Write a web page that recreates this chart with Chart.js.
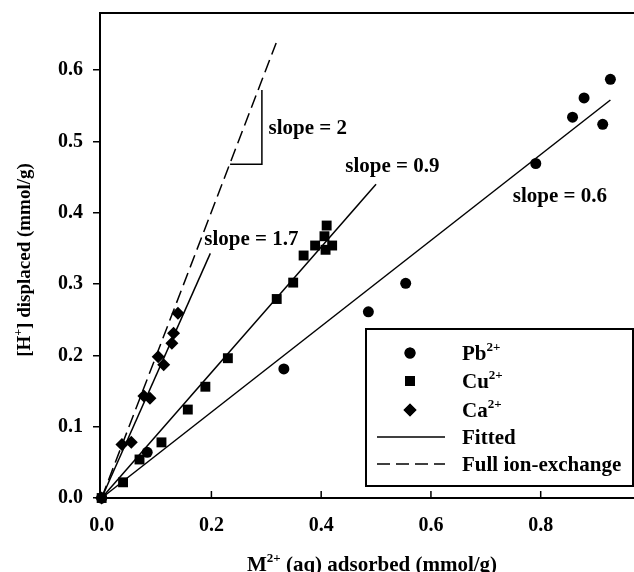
<!DOCTYPE html>
<html>
<head>
<meta charset="utf-8">
<script src="https://cdn.jsdelivr.net/npm/chart.js@4/dist/chart.umd.min.js"></script>
<style>
  html, body { margin: 0; padding: 0; background: #fff; }
  canvas { display: block; }
</style>
</head>
<body>
<canvas id="ionChart" width="634" height="572"></canvas>
<script>
// M2+ adsorbed vs H+ displaced, both in mmol/g
var pbX = [0, 0.083, 0.332, 0.486, 0.554, 0.791, 0.858, 0.879, 0.913, 0.927];
var pbY = [0, 0.064, 0.181, 0.261, 0.301, 0.469, 0.534, 0.561, 0.524, 0.587];

var cuX = [0, 0.039, 0.069, 0.109, 0.157, 0.189, 0.230, 0.319, 0.349, 0.368, 0.389, 0.406, 0.410, 0.408, 0.420];
var cuY = [0, 0.022, 0.054, 0.078, 0.124, 0.156, 0.196, 0.279, 0.302, 0.340, 0.354, 0.367, 0.382, 0.348, 0.354];

var caX = [0, 0.037, 0.054, 0.077, 0.088, 0.103, 0.113, 0.128, 0.131, 0.139];
var caY = [0, 0.075, 0.078, 0.143, 0.140, 0.198, 0.187, 0.217, 0.231, 0.259];

// fitted lines and the full ion-exchange line (slope 2)
var pbFitX = [0, 0.927], pbFitY = [0, 0.558];
var cuFitX = [0, 0.500], cuFitY = [0, 0.440];
var caFitX = [0, 0.198], caFitY = [0, 0.343];
var fullX = [0, 0.318], fullY = [0, 0.638];
// slope triangle next to the dashed line
var triX = [0.234, 0.292, 0.292], triY = [0.468, 0.468, 0.572];

var xTicks = [0, 0.2, 0.4, 0.6, 0.8];
var yTicks = [0, 0.1, 0.2, 0.3, 0.4, 0.5, 0.6];

var FONT = '"Liberation Serif", "Times New Roman", serif';

function pts(xs, ys) {
    return xs.map(function (x, i) { return { x: x, y: ys[i] }; });
}

function markers(label, xs, ys, style, r) {
    return {
        label: label, data: pts(xs, ys), pointStyle: style, pointRadius: r,
        backgroundColor: '#000', borderColor: '#000', borderWidth: 0, showLine: false, clip: false
    };
}

function line(xs, ys, dash) {
    return {
        data: pts(xs, ys), showLine: true, pointRadius: 0, borderColor: '#000',
        borderWidth: 1.5, borderDash: dash || [], fill: false, clip: false
    };
}

// text with superscript pieces, e.g. [['Pb'], ['2+', true]]
function richWidth(ctx, parts, size) {
    var w = 0;
    parts.forEach(function (p) {
        ctx.font = 'bold ' + (p[1] ? Math.round(size * 0.62) : size) + 'px ' + FONT;
        w += ctx.measureText(p[0]).width;
    });
    return w;
}

function richText(ctx, parts, x, y, size) {
    ctx.textBaseline = 'alphabetic';
    ctx.textAlign = 'left';
    parts.forEach(function (p) {
        var s = p[1] ? Math.round(size * 0.62) : size;
        ctx.font = 'bold ' + s + 'px ' + FONT;
        ctx.fillText(p[0], x, p[1] ? y - size * 0.42 : y);
        x += ctx.measureText(p[0]).width;
    });
}

var notes = [
    { text: 'slope = 2', x: 0.304, y: 0.518 },
    { text: 'slope = 1.7', x: 0.187, y: 0.363 },
    { text: 'slope = 0.9', x: 0.444, y: 0.464 },
    { text: 'slope = 0.6', x: 0.749, y: 0.422 }
];

var extras = {
    id: 'extras',
    afterDraw: function (chart) {
        var ctx = chart.ctx, a = chart.chartArea;
        var sx = chart.scales.x, sy = chart.scales.y;
        ctx.save();
        ctx.fillStyle = '#000';
        ctx.strokeStyle = '#000';

        // top frame line
        ctx.lineWidth = 2;
        ctx.beginPath();
        ctx.moveTo(a.left, a.top);
        ctx.lineTo(634, a.top);
        ctx.stroke();

        // x ticks point inward
        ctx.lineWidth = 1.5;
        xTicks.forEach(function (v) {
            var px = sx.getPixelForValue(v);
            if (px <= a.left + 2) return;
            ctx.beginPath();
            ctx.moveTo(px, a.bottom);
            ctx.lineTo(px, a.bottom - 7);
            ctx.stroke();
        });

        // slope labels
        ctx.font = 'bold 21px ' + FONT;
        ctx.textBaseline = 'middle';
        ctx.textAlign = 'left';
        notes.forEach(function (n) {
            ctx.fillText(n.text, sx.getPixelForValue(n.x), sy.getPixelForValue(n.y));
        });

        // axis titles
        var xt = [['M'], ['2+', true], [' (aq) adsorbed (mmol/g)']];
        var w = richWidth(ctx, xt, 21);
        richText(ctx, xt, 372 - w / 2, 571, 21);

        var yt = [['[H'], ['+', true], ['] displaced (mmol/g)']];
        w = richWidth(ctx, yt, 19);
        ctx.save();
        ctx.translate(30, 260);
        ctx.rotate(-Math.PI / 2);
        richText(ctx, yt, -w / 2, 0, 19);
        ctx.restore();

        // legend box
        ctx.lineWidth = 2;
        ctx.fillStyle = '#fff';
        ctx.fillRect(366, 329, 267, 157);
        ctx.strokeRect(366, 329, 267, 157);
        ctx.fillStyle = '#000';

        var ds = chart.data.datasets;
        var rows = [
            { set: ds[0], label: [['Pb'], ['2+', true]], y: 353 },
            { set: ds[1], label: [['Cu'], ['2+', true]], y: 381 },
            { set: ds[2], label: [['Ca'], ['2+', true]], y: 410 },
            { set: ds[3], label: [['Fitted']], y: 437, line: true },
            { set: ds[6], label: [['Full ion-exchange']], y: 464, line: true }
        ];
        rows.forEach(function (r) {
            if (r.line) {
                ctx.lineWidth = 1.5;
                ctx.setLineDash(r.set.borderDash);
                ctx.beginPath();
                ctx.moveTo(377, r.y);
                ctx.lineTo(445, r.y);
                ctx.stroke();
                ctx.setLineDash([]);
            } else {
                Chart.helpers.drawPoint(ctx, {
                    pointStyle: r.set.pointStyle, radius: r.set.pointRadius, borderWidth: 0
                }, 410, r.y);
                ctx.fill();
            }
            richText(ctx, r.label, 462, r.y + 7, 21);
        });

        ctx.restore();
    }
};

var ctx1 = document.getElementById('ionChart').getContext('2d');
var ionChart = new Chart(ctx1, {
    type: 'scatter',
    data: {
        datasets: [
            markers('Pb2+', pbX, pbY, 'circle', 5.5),
            markers('Cu2+', cuX, cuY, 'rect', 7),
            markers('Ca2+', caX, caY, 'rectRot', 6.5),
            line(pbFitX, pbFitY),
            line(cuFitX, cuFitY),
            line(caFitX, caFitY),
            line(fullX, fullY, [13, 6]),
            line(triX, triY)
        ]
    },
    options: {
        responsive: false,
        animation: false,
        layout: { autoPadding: false, padding: { top: 13, left: 0, right: 0, bottom: 0 } },
        plugins: { legend: { display: false }, tooltip: { enabled: false } },
        scales: {
            x: {
                type: 'linear', min: -0.003, max: 0.97,
                afterBuildTicks: function (s) { s.ticks = xTicks.map(function (v) { return { value: v }; }); },
                afterFit: function (s) { s.height = 74; s.paddingLeft = 0; s.paddingRight = 0; },
                ticks: {
                    color: '#000', padding: 8, maxRotation: 0,
                    font: { family: FONT, size: 20, weight: 'bold' },
                    callback: function (v) { return v.toFixed(1); }
                },
                grid: { display: false },
                border: { display: true, color: '#000', width: 2 }
            },
            y: {
                type: 'linear', min: 0, max: 0.68,
                afterBuildTicks: function (s) { s.ticks = yTicks.map(function (v) { return { value: v }; }); },
                afterFit: function (s) { s.width = 100; s.paddingTop = 0; s.paddingBottom = 0; },
                ticks: {
                    color: '#000', padding: 10,
                    font: { family: FONT, size: 20, weight: 'bold' },
                    callback: function (v) { return v.toFixed(1); }
                },
                grid: { drawOnChartArea: false, drawTicks: true, tickLength: 7, color: '#000', lineWidth: 1.5 },
                border: { display: true, color: '#000', width: 2 }
            }
        }
    },
    plugins: [extras]
});
</script>
</body>
</html>
